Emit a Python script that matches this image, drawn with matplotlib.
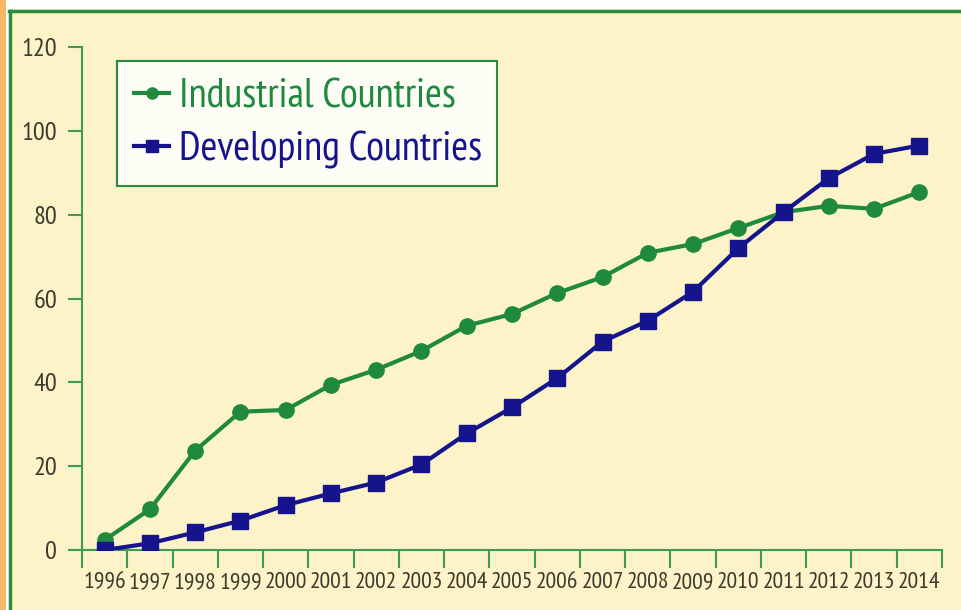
import matplotlib
matplotlib.use("Agg")
import matplotlib.pyplot as plt
from matplotlib import font_manager
from matplotlib.lines import Line2D
from matplotlib.patches import Rectangle

years = [str(y) for y in range(1996, 2015)]
industrial = [2.4, 9.7, 23.7, 33.0, 33.4, 39.4, 43.0, 47.5, 53.5, 56.3, 61.3,
              65.1, 70.9, 73.0, 76.8, 80.6, 82.1, 81.4, 85.4]
developing = [0.0, 1.6, 4.2, 7.0, 10.7, 13.5, 16.1, 20.4, 27.8, 34.0, 41.0,
              49.7, 54.7, 61.6, 72.0, 80.6, 88.7, 94.5, 96.5]
yticks = [0, 20, 40, 60, 80, 100, 120]

names = {f.name for f in font_manager.fontManager.ttflist}
fam = 'DejaVu Sans'
for cand in ['PT Sans Narrow', 'Fira Sans Condensed', 'Asap Condensed', 'Archivo Narrow',
             'Encode Sans Condensed', 'Barlow Condensed']:
    if cand in names:
        fam = cand
        break
plt.rcParams['font.family'] = [fam, 'DejaVu Sans']
if fam == 'DejaVu Sans':
    plt.rcParams['font.stretch'] = 'condensed'

GREEN = '#1f8a3e'
BLUE = '#15148c'
BG = '#fdf3c8'
TXT = '#3b3a2c'
AX = '#3f9a55'

fig = plt.figure(figsize=(9.61, 6.10), dpi=100)
fig.patch.set_facecolor(BG)
W, H = 961, 610

# frame decorations
fig.add_artist(Rectangle((0, 1 - 9 / H), 1, 9 / H, transform=fig.transFigure, facecolor='white', edgecolor='none', zorder=-4))
fig.add_artist(Rectangle((0, 0), 9 / W, 1, transform=fig.transFigure, facecolor='white', edgecolor='none', zorder=-4))
fig.add_artist(Rectangle((0, 0), 6 / W, 1, transform=fig.transFigure, facecolor='#f9b865', edgecolor='none', zorder=-3))
fig.add_artist(Line2D([9 / W, 1], [1 - 10.5 / H, 1 - 10.5 / H], transform=fig.transFigure, color='#2a8a3e', lw=2.5))
fig.add_artist(Line2D([9.5 / W, 9.5 / W], [0, 1 - 10.5 / H], transform=fig.transFigure, color='#2a8a3e', lw=2.5))

ax = fig.add_axes([82 / W, 60 / H, (942 - 82) / W, (550 - 47) / H])
ax.set_facecolor('none')
x = list(range(len(years)))
ax.plot(x, industrial, color=GREEN, lw=3, marker='o', ms=11, mfc=GREEN, mec=GREEN,
        label='Industrial Countries', zorder=3)
ax.plot(x, developing, color=BLUE, lw=3, marker='s', ms=11, mfc=BLUE, mec=BLUE,
        label='Developing Countries', zorder=4)

ax.set_xlim(-0.5, len(years) - 0.5)
ax.set_ylim(0, 120)
ax.set_yticks(yticks)
ax.set_yticklabels([str(v) for v in yticks], fontsize=19, color=TXT)
ax.set_xticks(x)
ax.set_xticklabels(years, fontsize=17, color=TXT)
ax.set_xticks([i - 0.5 for i in range(len(years) + 1)], minor=True)
ax.tick_params(axis='x', which='major', length=0, pad=16)
ax.tick_params(axis='x', which='minor', length=13, width=1.5, color=AX, direction='out')
ax.tick_params(axis='y', length=10, width=1.5, color=AX, direction='out', pad=8)
for s in ['top', 'right']:
    ax.spines[s].set_visible(False)
for s in ['left', 'bottom']:
    ax.spines[s].set_color(AX)
    ax.spines[s].set_linewidth(1.5)
ax.spines['bottom'].set_zorder(2)

bx0 = (117 - 82) / 860
bx1 = (497 - 82) / 860
by1 = (550 - 61) / 503
leg = ax.legend(loc='upper left', bbox_to_anchor=(bx0, by1 - 0.3, bx1 - bx0, 0.3), mode='expand',
                fontsize=29.5, frameon=True, fancybox=False, handlelength=0.85,
                handletextpad=0.25, borderpad=0.42, labelspacing=0.38, borderaxespad=0)
leg.get_frame().set_edgecolor('#2a8a3e')
leg.get_frame().set_linewidth(1.5)
leg.get_frame().set_facecolor('#fdfdf6')
leg.get_frame().set_alpha(1)
for t, c in zip(leg.get_texts(), [GREEN, BLUE]):
    t.set_color(c)
for h in leg.legend_handles:
    h.set_markersize(8)

fig.savefig('out.png', dpi=100, facecolor=BG)
